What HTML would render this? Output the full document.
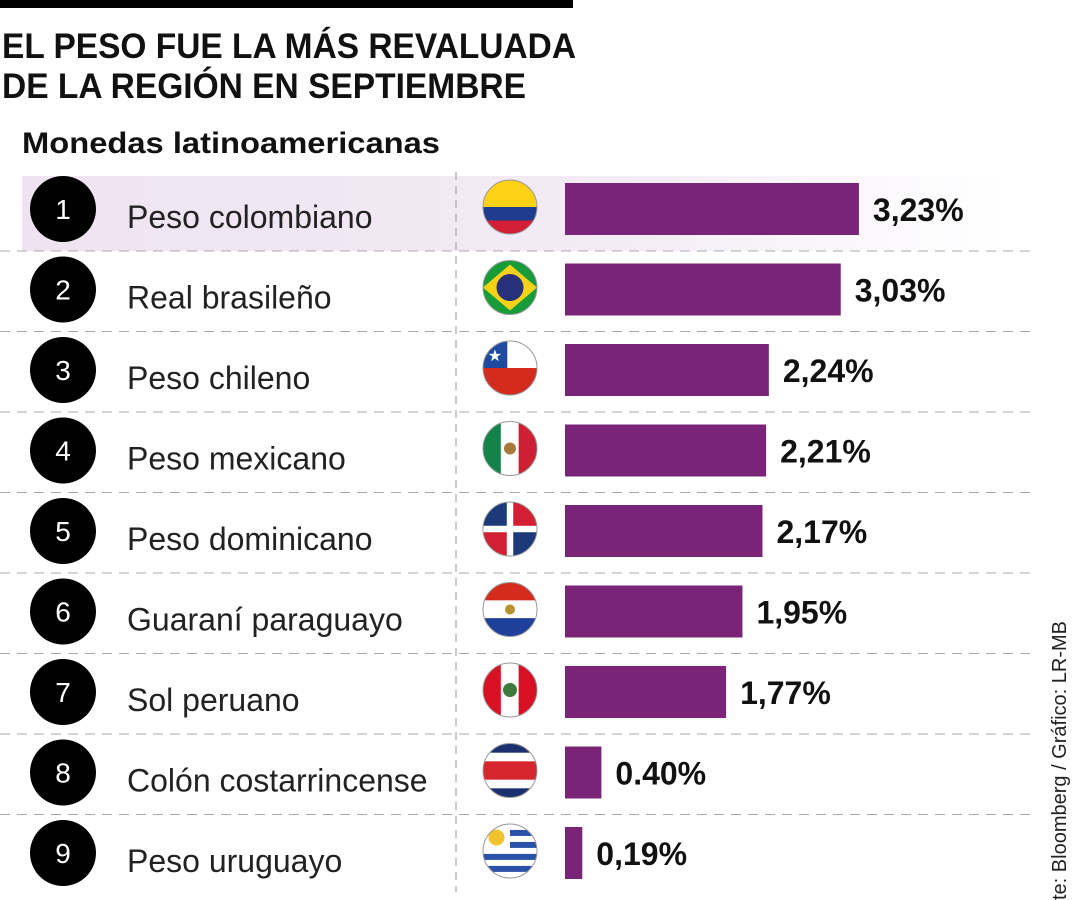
<!DOCTYPE html>
<html><head><meta charset="utf-8"><style>
body{margin:0;width:1080px;height:900px;background:#fff;overflow:hidden;font-family:"Liberation Sans",sans-serif}
svg{display:block}
</style></head><body>
<svg id="chart" width="1080" height="900">
<defs>
<linearGradient id="hl" x1="0" x2="1"><stop offset="0" stop-color="#efe3f2"/><stop offset="0.6" stop-color="#f3ebf5"/><stop offset="1" stop-color="#ffffff"/></linearGradient>
</defs>
<rect x="0" y="0" width="573" height="8" fill="#000"/>
<text x="2" y="58" font-size="35" font-weight="bold" fill="#111" textLength="574" lengthAdjust="spacingAndGlyphs">EL PESO FUE LA MÁS REVALUADA</text>
<text x="2" y="98" font-size="35" font-weight="bold" fill="#111" textLength="524" lengthAdjust="spacingAndGlyphs">DE LA REGIÓN EN SEPTIEMBRE</text>
<text x="22" y="153" font-size="30" font-weight="bold" fill="#111" textLength="418" lengthAdjust="spacingAndGlyphs">Monedas latinoamericanas</text>
<rect x="22" y="176" width="980" height="75" fill="url(#hl)"/>
<line x1="456" y1="172" x2="456" y2="892" stroke="#999" stroke-dasharray="8,6"/>
<g id="rows"></g>
<text transform="translate(1066,900) rotate(-90)" font-size="20" fill="#222">te: Bloomberg / Gráfico: LR-MB</text>
</svg>
<script>
const ranks=[1,2,3,4,5,6,7,8,9];
const currencies=["Peso colombiano","Real brasileño","Peso chileno","Peso mexicano","Peso dominicano","Guaraní paraguayo","Sol peruano","Colón costarrincense","Peso uruguayo"];
const values=[3.23,3.03,2.24,2.21,2.17,1.95,1.77,0.40,0.19];
const valueLabels=["3,23%","3,03%","2,24%","2,21%","2,17%","1,95%","1,77%","0.40%","0,19%"];
const countries=["co","br","cl","mx","do","py","pe","cr","uy"];

const NS="http://www.w3.org/2000/svg";
const x0=565, pxPer=91, rowTop=176, pitch=80.5;
const xScale=v=>v*pxPer;
const yCenter=i=>rowTop+33+i*pitch;
const g=document.getElementById('rows');
function mk(t,a,p){const e=document.createElementNS(NS,t);for(const k in a)e.setAttribute(k,a[k]);(p||g).appendChild(e);return e;}
function flag(c,cx,cy,r,parent){
  const id='clip'+c;
  const cp=mk('clipPath',{id:id},parent);mk('circle',{cx:cx,cy:cy,r:r},cp);
  const fg=mk('g',{'clip-path':'url(#'+id+')'},parent);
  const L=cx-r,T=cy-r,D=2*r;
  const R=(x,y,w,h,f)=>mk('rect',{x:L+x*D,y:T+y*D,width:w*D,height:h*D,fill:f},fg);
  if(c=='co'){R(0,0,1,.5,'#fcd116');R(0,.5,1,.25,'#1f3c8f');R(0,.75,1,.25,'#d21f33');}
  if(c=='br'){R(0,0,1,1,'#179c3a');mk('polygon',{points:`${cx},${T+4} ${L+D} ,${cy} ${cx},${T+D-4} ${L},${cy}`,fill:'#f7d117'},fg);mk('circle',{cx:cx,cy:cy,r:r*0.5,fill:'#27307a'},fg);}
  if(c=='cl'){R(0,0,1,.5,'#fff');R(0,0,.45,.5,'#1e4aa0');R(0,.5,1,.5,'#d52b1e');mk('text',{x:L+D*0.22,y:T+D*0.37,'font-size':16,fill:'#fff','text-anchor':'middle'},fg).textContent='★';}
  if(c=='mx'){R(0,0,.34,1,'#13834a');R(.33,0,.34,1,'#fff');R(.66,0,.34,1,'#cf1f33');mk('circle',{cx:cx,cy:cy,r:6,fill:'#a57a3a'},fg);}
  if(c=='do'){R(0,0,1,1,'#fff');R(0,0,.44,.44,'#1c3a7a');R(.56,0,.44,.44,'#d21f33');R(0,.56,.44,.44,'#d21f33');R(.56,.56,.44,.44,'#1c3a7a');}
  if(c=='py'){R(0,0,1,.34,'#d52b1e');R(0,.33,1,.34,'#fff');R(0,.66,1,.34,'#1e3f9a');mk('circle',{cx:cx,cy:cy,r:5,fill:'#b8902f'},fg);}
  if(c=='pe'){R(0,0,.34,1,'#d91023');R(.33,0,.34,1,'#fff');R(.66,0,.34,1,'#d91023');mk('circle',{cx:cx,cy:cy,r:7,fill:'#3a7a3a'},fg);}
  if(c=='cr'){R(0,0,1,1,'#fff');R(0,0,1,.17,'#1c2f6e');R(0,.33,1,.34,'#d7262d');R(0,.83,1,.17,'#1c2f6e');}
  if(c=='uy'){R(0,0,1,1,'#fff');for(let k=0;k<4;k++)R(0,.11+k*.222,1,.111,'#2a52a8');R(0,0,.5,.5,'#fff');mk('circle',{cx:L+D*.25,cy:T+D*.25,r:8,fill:'#f2c12e'},fg);}
  mk('circle',{cx:cx,cy:cy,r:r,fill:'none',stroke:'#999','stroke-width':1},parent);
}
ranks.forEach((rk,i)=>{
  const cy=yCenter(i);
  const row=mk('g',{});
  
  
  const c=mk('circle',{cx:63,cy:cy,r:33,fill:'#000'},row);
  
  
  const n=mk('text',{x:63,y:cy+10,'font-size':28,fill:'#fff','text-anchor':'middle'},row);n.textContent=rk;
  
  
  const l=mk('text',{x:127,y:cy+19,'font-size':32,fill:'#222'},row);l.textContent=currencies[i];
  
  
  const fgp=mk('g',{},row);
  
  
  flag(countries[i],510,cy-2,27,fgp);
  const w=xScale(values[i]);
  const b=mk('rect',{x:x0,y:cy-26,width:w,height:52,fill:'#7a2478'},row);
  
  
  const v=mk('text',{x:x0+w+14,y:cy+12,'font-size':32,'font-weight':'bold',fill:'#111'},row);v.textContent=valueLabels[i];
  
  
  if(i<8){const d=mk('line',{x1:0,y1:cy+42,x2:1030,y2:cy+42,stroke:'#aaa','stroke-dasharray':'10,7'},row);
  
  }
});
</script>
</body></html>
